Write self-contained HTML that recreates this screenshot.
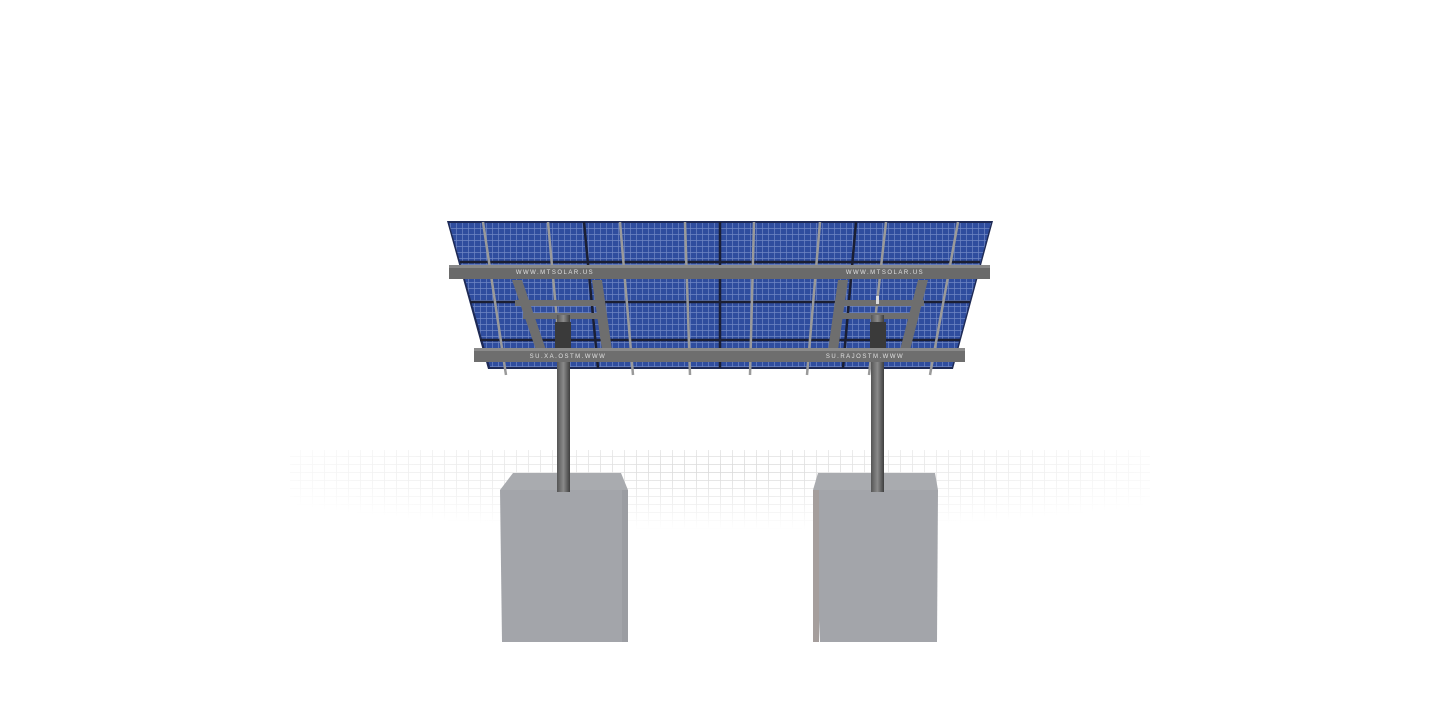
<!DOCTYPE html>
<html><head><meta charset="utf-8"><style>
html,body{margin:0;padding:0;background:#fff;width:1440px;height:706px;overflow:hidden}
svg{display:block}
</style></head><body>
<svg width="1440" height="706" viewBox="0 0 1440 706" xmlns="http://www.w3.org/2000/svg">
<defs>
<pattern id="cells" width="6" height="6" patternUnits="userSpaceOnUse">
<rect width="6" height="6" fill="#2f4d9e"/>
<path d="M0 0.5H6M0.5 0V6" stroke="#6f86c4" stroke-width="0.7"/>
</pattern>
<radialGradient id="fade" cx="0.5" cy="0.3" r="0.6">
<stop offset="0" stop-color="#fff" stop-opacity="0"/>
<stop offset="1" stop-color="#fff" stop-opacity="1"/>
</radialGradient>
<pattern id="floor" width="12" height="8" patternUnits="userSpaceOnUse">
<path d="M0.5 0V8M0 0.5H12" stroke="#d8d8d8" stroke-width="0.8"/>
</pattern>
<linearGradient id="post" x1="0" x2="1">
<stop offset="0" stop-color="#555"/><stop offset="0.5" stop-color="#8a8a8a"/><stop offset="1" stop-color="#3e3e3e"/>
</linearGradient>
</defs>
<!-- floor grid -->
<rect x="290" y="450" width="860" height="82" fill="url(#floor)"/>
<rect x="280" y="440" width="880" height="100" fill="url(#fade)"/>
<!-- panel -->
<polygon points="447,221 993,221 953,369 488,369" fill="#1e2a55"/>
<polygon points="449,223 991,223 952,367 490,367" fill="url(#cells)"/>
<g stroke="#1b1f33" stroke-width="2.5" fill="none">
<line x1="584" y1="222" x2="598" y2="368"/>
<line x1="720" y1="222" x2="720" y2="368"/>
<line x1="856" y1="222" x2="843" y2="368"/>
<line x1="460" y1="262" x2="980" y2="262"/>
<line x1="470" y1="302" x2="970" y2="302"/>
<line x1="480" y1="340" x2="960" y2="340"/>
</g>
<!-- rails -->
<g stroke="#9a9a9a" stroke-width="2.5">
<line x1="483" y1="222" x2="506" y2="375"/>
<line x1="548" y1="222" x2="562" y2="375"/>
<line x1="620" y1="222" x2="633" y2="375"/>
<line x1="685" y1="222" x2="690" y2="375"/>
<line x1="754" y1="222" x2="750" y2="375"/>
<line x1="820" y1="222" x2="807" y2="375"/>
<line x1="886" y1="222" x2="869" y2="375"/>
<line x1="958" y1="222" x2="930" y2="375"/>
</g>
<!-- frames -->
<g fill="#6e6e6e">
<polygon points="512,280 522,280 546,350 536,350"/>
<polygon points="592,280 602,280 612,350 602,350"/>
<polygon points="838,280 848,280 838,350 828,350"/>
<polygon points="918,280 928,280 910,350 900,350"/>
<rect x="515" y="300" width="88" height="6"/>
<rect x="523" y="313" width="82" height="6"/>
<rect x="836" y="300" width="88" height="6"/>
<rect x="836" y="313" width="82" height="6"/>
</g>
<!-- upper beam -->
<polygon points="449,265 990,265 990,279 449,279" fill="#6a6a6a"/>
<rect x="449" y="265" width="541" height="3" fill="#888"/>
<text x="555" y="274" font-family="Liberation Sans, sans-serif" font-size="6" fill="#e0e0e0" text-anchor="middle" letter-spacing="1.5">WWW.MTSOLAR.US</text>
<text x="885" y="274" font-family="Liberation Sans, sans-serif" font-size="6" fill="#e0e0e0" text-anchor="middle" letter-spacing="1.5">WWW.MTSOLAR.US</text>
<!-- posts -->
<rect x="557" y="315" width="13" height="177" fill="url(#post)"/>
<rect x="871" y="315" width="13" height="177" fill="url(#post)"/>
<rect x="555" y="322" width="16" height="26" fill="#3a3a3a"/>
<rect x="870" y="322" width="16" height="26" fill="#3a3a3a"/>
<rect x="876" y="296" width="3" height="8" fill="#ddd"/>
<!-- lower beam -->
<rect x="474" y="348" width="491" height="14" fill="#6e6e6e"/>
<rect x="474" y="348" width="491" height="3" fill="#8a8a8a"/>
<text x="568" y="358" font-family="Liberation Sans, sans-serif" font-size="6" fill="#e0e0e0" text-anchor="middle" letter-spacing="1.5">SU.XA.OSTM.WWW</text>
<text x="865" y="358" font-family="Liberation Sans, sans-serif" font-size="6" fill="#e0e0e0" text-anchor="middle" letter-spacing="1.5">SU.RAJOSTM.WWW</text>
<!-- blocks -->
<polygon points="513,473 621,473 628,490 500,490" fill="#a9abaf"/>
<polygon points="500,490 628,490 628,642 502,642" fill="#a3a5aa"/>
<rect x="622" y="490" width="6" height="152" fill="#9b9da2"/>
<polygon points="818,473 935,473 938,490 813,490" fill="#a9abaf"/>
<polygon points="813,490 938,490 937,642 820,642" fill="#a3a5aa"/>
<rect x="813" y="490" width="6" height="152" fill="#a59e9c"/>
<rect x="557" y="473" width="13" height="19" fill="url(#post)"/>
<rect x="871" y="473" width="13" height="19" fill="url(#post)"/>
</svg>
</body></html>
